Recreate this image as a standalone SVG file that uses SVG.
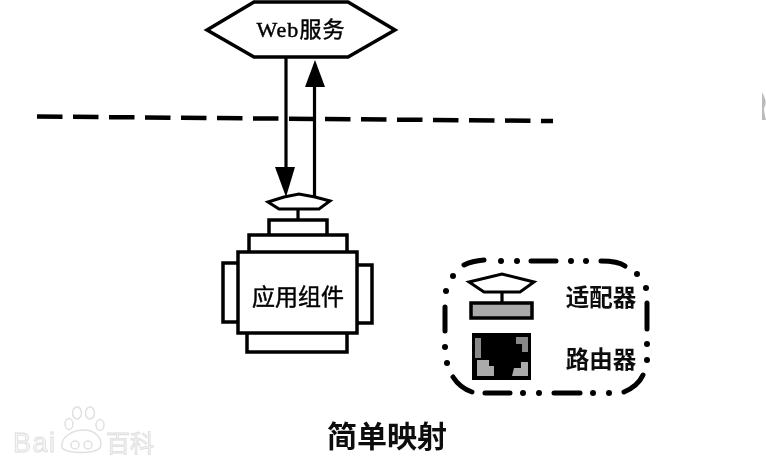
<svg xmlns="http://www.w3.org/2000/svg" width="766" height="459" viewBox="0 0 766 459">
<style>
.s{fill:#fff;stroke:#000;stroke-width:3.5;stroke-linejoin:miter}
.l{fill:none;stroke:#000;stroke-width:3.2}
.d{fill:none;stroke:#000;stroke-width:5;stroke-linecap:round}
.o{fill:#000}
.t{font-family:"Noto Sans CJK SC","Liberation Serif",serif;font-weight:400;fill:#000;stroke:#000;stroke-width:.45;text-anchor:middle}
.b{font-family:"Noto Sans CJK SC",sans-serif;font-weight:700;fill:#111;text-anchor:middle}
.w{font-family:"Liberation Sans","Noto Sans CJK SC",sans-serif;fill:#f6f6f6;stroke:#dcdcdc;stroke-width:.8}
</style>
<defs>
<filter id="soft" x="-5%" y="-5%" width="110%" height="110%"><feGaussianBlur stdDeviation="0.6"/></filter>
</defs>
<rect width="766" height="459" fill="#fff"/>
<g filter="url(#soft)">
<g id="connectors">
<path d="M37 116.500L553 121" fill="none" stroke="#000" stroke-width="4.500" stroke-dasharray="25.500 10.500"/>
<path class="l" d="M286 57V167"/>
<path d="M275 167H295L286 197Z" class="o"/>
<path class="l" d="M314.500 197V86"/>
<path d="M305 87H325L315 60Z" class="o"/>
<path class="l" d="M298 209V220"/>
</g>
<g id="web-service">
<path class="s" d="M207 30L254 2H348L395 30L348 57H254Z"/>
<text class="t" x="301" y="37" font-size="22" letter-spacing="1"><tspan font-family="Liberation Serif,serif">Web</tspan>服务</text>
</g>
<g id="app-component">
<path class="s" d="M268 202L284 197L299 194L315 197L330 201L319 209H279Z" style="stroke-width:3"/>
<rect class="s" x="223" y="263" width="20" height="59"/>
<rect class="s" x="352" y="265" width="20" height="58"/>
<rect class="s" x="269" y="220" width="58" height="20"/>
<rect class="s" x="249" y="235" width="98" height="22"/>
<rect class="s" x="247" y="328" width="100" height="24"/>
<rect class="s" x="238" y="252" width="119" height="81"/>
<text class="t" x="298" y="305" font-size="23">应用组件</text>
</g>
<g id="legend">
<path class="d" d="M464 265Q472 261 484 260M531 261H556M601 261Q618 261 625 266M445 307V331M453 377Q460 388 472 392M485 393H510M554 393H580M624 392Q638 386 643 375M647 303V329"/>
<g class="o">
<circle cx="501" cy="261" r="3"/><circle cx="517" cy="261" r="3"/><circle cx="571" cy="261" r="3"/><circle cx="586" cy="261" r="3"/>
<circle cx="453" cy="276" r="3"/><circle cx="446" cy="291" r="3"/><circle cx="445" cy="347" r="3"/><circle cx="447" cy="363" r="3"/>
<circle cx="523" cy="393" r="3"/><circle cx="539" cy="393" r="3"/><circle cx="593" cy="393" r="3"/><circle cx="609" cy="393" r="3"/>
<circle cx="647" cy="360" r="3"/><circle cx="647" cy="344" r="3"/><circle cx="646" cy="288" r="3"/><circle cx="637" cy="274" r="3"/>
</g>
<path class="s" d="M469 282L502 274L534 282L520 292H484Z" style="stroke-width:3"/>
<path class="l" d="M502 292V303"/>
<rect x="471" y="303" width="61" height="15" fill="#aaa" stroke="#000" stroke-width="3.500"/>
<rect x="472" y="333" width="59" height="47" fill="#000"/>
<path d="M475 338H481V358H475ZM516 337H528V352H522V344H516Z" fill="#888"/>
<path d="M477 360H489V366H494V376H477ZM514 368H521V362H528V376H512Z" fill="#aaa"/>
<text class="b" x="601" y="306" font-size="23.500">适配器</text>
<text class="b" x="601" y="368" font-size="23.500">路由器</text>
</g>
<text class="b" x="387" y="447" font-size="30">简单映射</text>
<g id="watermark">
<text class="w" x="13" y="452" font-size="27" letter-spacing="1.500">Bai</text>
<text class="w" x="106" y="452" font-size="24">百科</text>
<g fill="#fff" stroke="#e0e0e0" stroke-width="1.500">
<ellipse cx="77" cy="413" rx="4.500" ry="6"/><ellipse cx="90" cy="413" rx="4.500" ry="6"/><ellipse cx="69" cy="424" rx="4" ry="5.500"/><ellipse cx="100" cy="425" rx="4" ry="5.500"/>
<path d="M62 448C60 436 74 430 84 430C94 430 104 438 100 448C94 454 68 454 62 448Z"/>
<circle cx="75" cy="445" r="4"/><circle cx="88" cy="445" r="4"/>
</g>
</g>
<path d="M762 92C766 100 767 103 764 108C764 112 765 116 766 120H762Z" fill="#bbb"/>
</g>
</svg>
